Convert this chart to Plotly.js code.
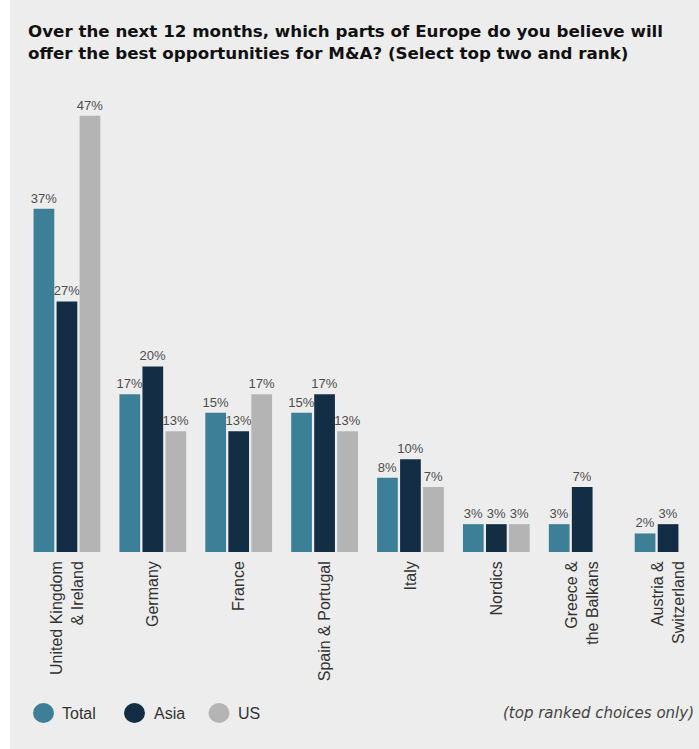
<!DOCTYPE html>
<html>
<head>
<meta charset="utf-8">
<script src="https://cdn.plot.ly/plotly-3.0.1.min.js"></script>
<style>
  html, body { margin: 0; padding: 0; background: #ffffff; }
  #chart { position: absolute; left: 10px; top: 0; width: 689px; height: 749px; }
</style>
</head>
<body>
<div id="chart"></div>
<script>
const categories = ['United Kingdom<br>& Ireland', 'Germany', 'France', 'Spain & Portugal', 'Italy', 'Nordics', 'Greece &<br>the Balkans', 'Austria &<br>Switzerland'];
const totalValues = [37, 17, 15, 15, 8, 3, 3, 2];
const asiaValues = [27, 20, 13, 17, 10, 3, 7, 3];
const usValues = [47, 13, 17, 13, 7, 3, null, null];
const seriesNames = ['Total', 'Asia', 'US'];
const seriesColors = ['#3c7f97', '#132e44', '#b4b4b4'];

const W = 689, H = 749;
const M = {l: 14, r: 0, t: 88, b: 197};
const plotW = W - M.l - M.r, plotH = H - M.t - M.b;
// page px -> paper fraction helpers (page x has a 10px offset)
const px = x => (x - 10 - M.l) / plotW;
const py = y => (H - M.b - y) / plotH;

const font = '"Liberation Sans", Arial, Helvetica, sans-serif';
const titleFont = '"DejaVu Sans", "Liberation Sans", Arial, sans-serif';
const valuesList = [totalValues, asiaValues, usValues];

const traces = valuesList.map((vals, i) => ({
  type: 'bar',
  name: seriesNames[i],
  x: categories,
  y: vals,
  marker: {color: seriesColors[i]},
  texttemplate: '%{y}%',
  textposition: 'outside',
  textangle: 0,
  constraintext: 'none',
  cliponaxis: false,
  textfont: {family: font, size: 13, color: '#4d4d4d'},
  hoverinfo: 'skip',
  showlegend: false
}));

const shapes = [];
const annotations = [];
const legendPos = [
  {cx: 43.5, tx: 60},
  {cx: 134.5, tx: 152},
  {cx: 219, tx: 236}
];
legendPos.forEach((p, i) => {
  shapes.push({
    type: 'circle', xref: 'paper', yref: 'paper',
    x0: px(p.cx - 10.5), x1: px(p.cx + 10.5),
    y0: py(713 + 10), y1: py(713 - 10),
    fillcolor: seriesColors[i], line: {width: 0}
  });
  annotations.push({
    xref: 'paper', yref: 'paper', x: px(p.tx), y: py(713),
    xanchor: 'left', yanchor: 'middle', showarrow: false,
    text: seriesNames[i],
    font: {family: font, size: 16, color: '#333333'}
  });
});
annotations.push({
  xref: 'paper', yref: 'paper', x: px(696), y: py(713),
  xanchor: 'right', yanchor: 'middle', showarrow: false,
  text: '<i>(top ranked choices only)</i>',
  font: {family: titleFont, size: 15, color: '#444444'}
});

const layout = {
  width: W, height: H,
  margin: M,
  paper_bgcolor: '#ededed',
  plot_bgcolor: '#ededed',
  title: {
    text: '<b>Over the next 12 months, which parts of Europe do you believe will<br>offer the best opportunities for M&A? (Select top two and rank)</b>',
    font: {family: titleFont, size: 16.7, color: '#111111'},
    xref: 'container', yref: 'container',
    x: 18 / W, xanchor: 'left',
    y: 1 - 37 / H, yanchor: 'top'
  },
  barmode: 'group',
  bargap: 0.196,
  bargroupgap: 0.1,
  xaxis: {
    type: 'category',
    range: [-0.5, 7.36],
    tickangle: -90,
    tickfont: {family: font, size: 16, color: '#333333'},
    showgrid: false, zeroline: false, showline: false, ticks: '',
    ticklabelstandoff: 5
  },
  yaxis: {
    range: [0, 50],
    visible: false,
    showgrid: false, zeroline: false
  },
  shapes: shapes,
  annotations: annotations,
  showlegend: false
};

Plotly.newPlot('chart', traces, layout, {displayModeBar: false, staticPlot: true});
</script>
</body>
</html>
